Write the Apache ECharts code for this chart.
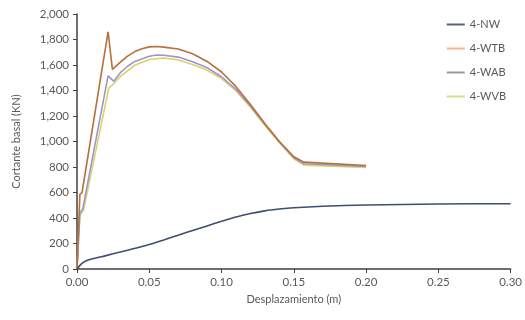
<!DOCTYPE html>
<html>
<head>
<meta charset="utf-8">
<script src="https://cdn.jsdelivr.net/npm/echarts@6/dist/echarts.min.js"></script>
<style>
  html, body { margin: 0; padding: 0; background: #fff; }
  #chart { width: 525px; height: 320px; }
</style>
</head>
<body>
<div id="chart"></div>
<script>
// Curvas pushover: desplazamiento (m) vs cortante basal (kN)
const seriesNames = ['4-NW', '4-WTB', '4-WAB', '4-WVB'];
const seriesColors = ['#3f4d73', '#b8703a', '#a094cc', '#d8d46a'];
const legendColors = ['#5a6378', '#f0b890', '#9a9a9a', '#d6e08a'];

const nw = [
  [0, 0], [0.003, 40], [0.006, 62], [0.01, 78], [0.02, 105], [0.03, 133],
  [0.04, 162], [0.05, 192], [0.06, 228], [0.07, 265], [0.08, 302],
  [0.09, 338], [0.10, 374], [0.11, 408], [0.12, 435], [0.13, 456],
  [0.14, 470], [0.15, 480], [0.17, 492], [0.20, 502], [0.25, 510], [0.30, 512]
];
const wtb = [
  [0, 0], [0.002, 585], [0.0035, 600], [0.0215, 1860], [0.0245, 1565],
  [0.03, 1622], [0.035, 1670], [0.04, 1705], [0.045, 1728], [0.05, 1742],
  [0.055, 1745], [0.06, 1740], [0.07, 1725], [0.08, 1688], [0.09, 1628],
  [0.10, 1545], [0.11, 1430], [0.12, 1290], [0.13, 1140], [0.14, 1000],
  [0.15, 880], [0.157, 838], [0.20, 812]
];
const wab = [
  [0, 0], [0.002, 440], [0.004, 472], [0.0215, 1515], [0.0255, 1472],
  [0.03, 1540], [0.035, 1590], [0.04, 1628], [0.05, 1668], [0.055, 1678],
  [0.06, 1676], [0.07, 1662], [0.08, 1625], [0.09, 1578], [0.10, 1508],
  [0.11, 1408], [0.12, 1278], [0.13, 1135], [0.14, 998], [0.15, 872],
  [0.157, 825], [0.20, 805]
];
const wvb = [
  [0, 0], [0.002, 420], [0.0045, 460], [0.022, 1420], [0.024, 1438],
  [0.03, 1510], [0.04, 1598], [0.05, 1643], [0.06, 1655], [0.07, 1640],
  [0.08, 1604], [0.09, 1558], [0.10, 1494], [0.11, 1398], [0.12, 1268],
  [0.13, 1125], [0.14, 990], [0.15, 865], [0.157, 815], [0.20, 797]
];
const seriesData = [nw, wtb, wab, wvb];

const font = 'Lato, "Open Sans", sans-serif';
const chart = echarts.init(document.getElementById('chart'), null, { renderer: 'canvas' });

chart.setOption({
  animation: false,
  backgroundColor: '#ffffff',
  grid: { left: 77, right: 14, top: 14, bottom: 51 },
  legend: {
    orient: 'vertical',
    right: 14,
    top: 14,
    itemWidth: 18,
    itemHeight: 2,
    itemGap: 13,
    icon: 'rect',
    textStyle: { fontFamily: font, fontSize: 11, color: '#595959' },
    data: seriesNames.map((n, i) => ({ name: n, itemStyle: { color: legendColors[i] } }))
  },
  xAxis: {
    type: 'value',
    min: 0, max: 0.3, interval: 0.05,
    name: 'Desplazamiento (m)',
    nameLocation: 'middle',
    nameGap: 25,
    nameTextStyle: { fontFamily: font, fontSize: 11, color: '#595959' },
    axisLine: { show: true, lineStyle: { color: '#404040', width: 1.5 } },
    axisTick: { show: true, length: 4, lineStyle: { color: '#404040' } },
    axisLabel: { fontFamily: font, fontSize: 11.5, color: '#595959', margin: 7,
      formatter: v => v.toFixed(2) },
    splitLine: { show: false }
  },
  yAxis: {
    type: 'value',
    min: 0, max: 2000, interval: 200,
    name: 'Cortante basal (KN)',
    nameLocation: 'middle',
    nameGap: 55,
    nameTextStyle: { fontFamily: font, fontSize: 11, color: '#595959' },
    axisLine: { show: true, lineStyle: { color: '#404040', width: 1.5 } },
    axisTick: { show: true, length: 4, lineStyle: { color: '#404040' } },
    axisLabel: { fontFamily: font, fontSize: 11.5, color: '#595959', margin: 8,
      formatter: v => v.toLocaleString('en-US') },
    splitLine: { show: false }
  },
  series: seriesNames.map((n, i) => ({
    name: n,
    type: 'line',
    data: seriesData[i],
    showSymbol: false,
    smooth: i === 0 ? 0.2 : false,
    color: seriesColors[i],
    lineStyle: { width: 1.6, color: seriesColors[i] },
    z: 10 - i
  }))
});
</script>
</body>
</html>
